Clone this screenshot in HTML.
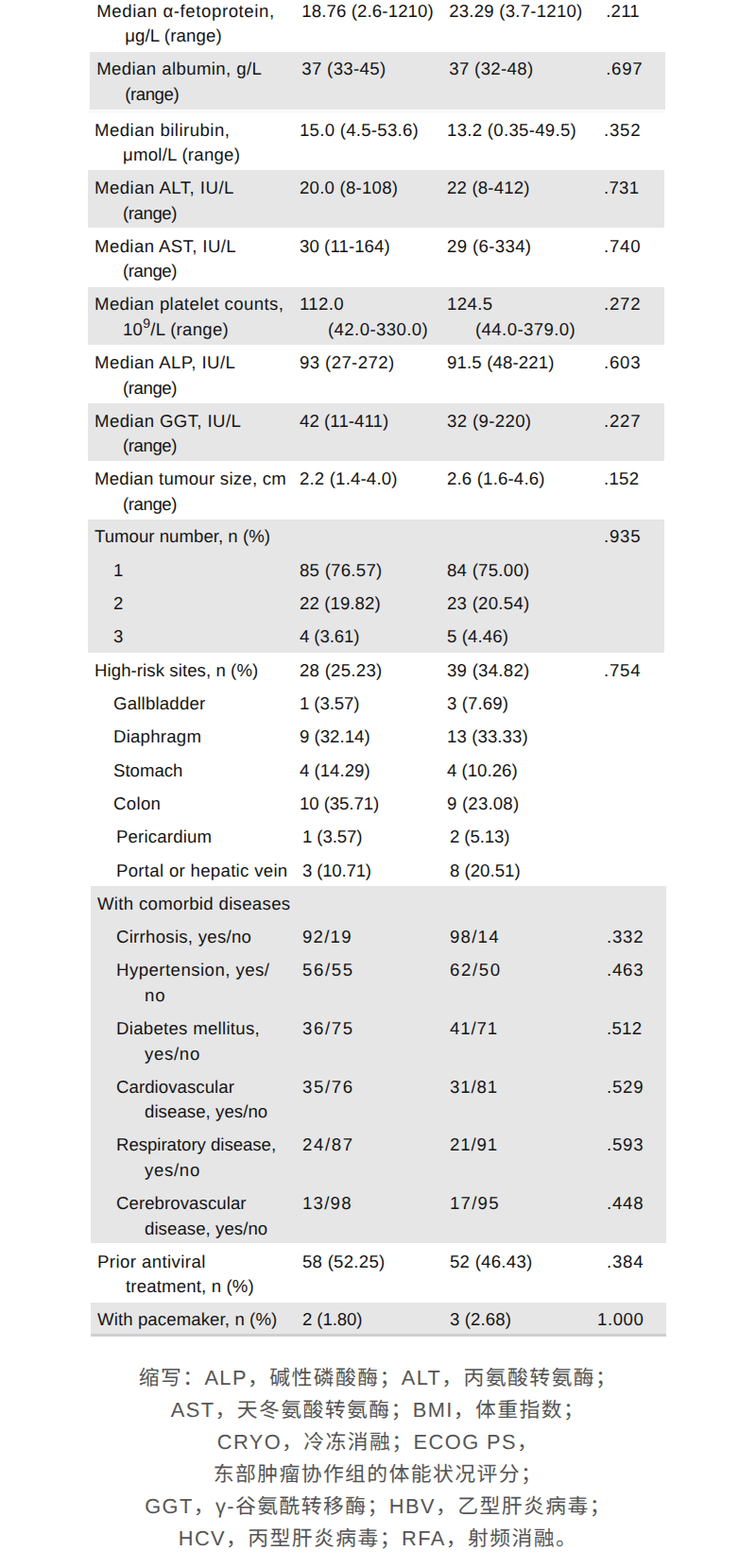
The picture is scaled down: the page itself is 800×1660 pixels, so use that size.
<!DOCTYPE html>
<html lang="en"><head><meta charset="utf-8"><title>Table</title><style>html,body{margin:0;padding:0;background:#fff}
#pg{text-rendering:geometricPrecision;position:relative;width:800px;height:1660px;overflow:hidden;background:#fff;font-family:"Liberation Sans", sans-serif;font-size:18.6px;color:#151515;line-height:20px}
.t{position:absolute;white-space:pre}
.b{position:absolute;background:#e6e6e7}
sup{font-size:14px;line-height:0;vertical-align:baseline;position:relative;top:-8.3px}
.zt{position:absolute;left:0;width:800px;text-align:center;white-space:pre;font-size:21.8px;letter-spacing:1.45px;line-height:30px;color:transparent}
.zs text{font-family:"Liberation Sans","Noto Sans CJK SC",sans-serif;font-size:21.8px;letter-spacing:1.45px;fill:#555}
</style></head><body><div id="pg">
<div class="b" style="left:94.75px;top:54.60px;width:609.65px;height:61.00px"></div>
<div class="b" style="left:92.8px;top:117.80px;width:610.00px;height:1.00px;background:#f4f4f4"></div>
<div class="b" style="left:92.8px;top:180.10px;width:610.00px;height:61.10px"></div>
<div class="b" style="left:92.8px;top:303.50px;width:610.00px;height:61.10px"></div>
<div class="b" style="left:92.8px;top:427.00px;width:610.00px;height:60.90px"></div>
<div class="b" style="left:92.8px;top:550.00px;width:610.00px;height:140.50px"></div>
<div class="b" style="left:95.6px;top:937.75px;width:609.80px;height:378.45px"></div>
<div class="b" style="left:95.6px;top:1378.50px;width:609.80px;height:33.50px"></div>
<div class="b" style="left:95.6px;top:1411.80px;width:609.80px;height:3.00px;background:#cfcfd1"></div>
<span class="t" style="left:102.20px;top:1.80px;letter-spacing:0.59px">Median α-fetoprotein,</span>
<span class="t" style="left:132.20px;top:28.30px;letter-spacing:0.13px">μg/L (range)</span>
<span class="t" style="left:319.20px;top:1.80px;letter-spacing:0.14px">18.76 (2.6-1210)</span>
<span class="t" style="left:475.20px;top:1.80px;letter-spacing:0.24px">23.29 (3.7-1210)</span>
<span class="t" style="left:641.20px;top:1.80px;letter-spacing:0.23px">.211</span>
<span class="t" style="left:102.20px;top:63.40px;letter-spacing:0.4px">Median albumin, g/L</span>
<span class="t" style="left:132.20px;top:89.90px;letter-spacing:-0.42px">(range)</span>
<span class="t" style="left:319.20px;top:63.40px;letter-spacing:0.36px">37 (33-45)</span>
<span class="t" style="left:475.20px;top:63.40px;letter-spacing:0.36px">37 (32-48)</span>
<span class="t" style="left:641.20px;top:63.40px;letter-spacing:0.76px">.697</span>
<span class="t" style="left:100.00px;top:127.50px;letter-spacing:0.47px">Median bilirubin,</span>
<span class="t" style="left:130.00px;top:154.00px;letter-spacing:0.25px">μmol/L (range)</span>
<span class="t" style="left:317.00px;top:127.50px;letter-spacing:0.27px">15.0 (4.5-53.6)</span>
<span class="t" style="left:473.00px;top:127.50px;letter-spacing:0.3px">13.2 (0.35-49.5)</span>
<span class="t" style="left:639.00px;top:127.50px;letter-spacing:0.76px">.352</span>
<span class="t" style="left:100.00px;top:189.15px;letter-spacing:0.48px">Median ALT, IU/L</span>
<span class="t" style="left:130.00px;top:215.65px;letter-spacing:-0.42px">(range)</span>
<span class="t" style="left:317.00px;top:189.15px;letter-spacing:0.24px">20.0 (8-108)</span>
<span class="t" style="left:473.00px;top:189.15px;letter-spacing:0.19px">22 (8-412)</span>
<span class="t" style="left:639.00px;top:189.15px;letter-spacing:0.26px">.731</span>
<span class="t" style="left:100.00px;top:250.80px;letter-spacing:0.4px">Median AST, IU/L</span>
<span class="t" style="left:130.00px;top:277.30px;letter-spacing:-0.42px">(range)</span>
<span class="t" style="left:317.00px;top:250.80px;letter-spacing:0.09px">30 (11-164)</span>
<span class="t" style="left:473.00px;top:250.80px;letter-spacing:0.36px">29 (6-334)</span>
<span class="t" style="left:639.00px;top:250.80px;letter-spacing:0.76px">.740</span>
<span class="t" style="left:100.00px;top:312.45px;letter-spacing:0.39px">Median platelet counts,</span>
<span class="t" style="left:130.00px;top:338.95px;letter-spacing:0.28px">10<sup>9</sup>/L (range)</span>
<span class="t" style="left:317.00px;top:312.45px;letter-spacing:0.36px">112.0</span>
<span class="t" style="left:347.00px;top:338.95px;letter-spacing:0.41px">(42.0-330.0)</span>
<span class="t" style="left:473.00px;top:312.45px;letter-spacing:0.39px">124.5</span>
<span class="t" style="left:503.00px;top:338.95px;letter-spacing:0.41px">(44.0-379.0)</span>
<span class="t" style="left:639.00px;top:312.45px;letter-spacing:0.76px">.272</span>
<span class="t" style="left:100.00px;top:374.10px;letter-spacing:0.44px">Median ALP, IU/L</span>
<span class="t" style="left:130.00px;top:400.60px;letter-spacing:-0.42px">(range)</span>
<span class="t" style="left:317.00px;top:374.10px;letter-spacing:0.4px">93 (27-272)</span>
<span class="t" style="left:473.00px;top:374.10px;letter-spacing:0.16px">91.5 (48-221)</span>
<span class="t" style="left:639.00px;top:374.10px;letter-spacing:0.76px">.603</span>
<span class="t" style="left:100.00px;top:435.75px;letter-spacing:0.4px">Median GGT, IU/L</span>
<span class="t" style="left:130.00px;top:462.25px;letter-spacing:-0.42px">(range)</span>
<span class="t" style="left:317.00px;top:435.75px;letter-spacing:0.08px">42 (11-411)</span>
<span class="t" style="left:473.00px;top:435.75px;letter-spacing:0.36px">32 (9-220)</span>
<span class="t" style="left:639.00px;top:435.75px;letter-spacing:0.76px">.227</span>
<span class="t" style="left:100.00px;top:497.40px;letter-spacing:0.26px">Median tumour size, cm</span>
<span class="t" style="left:130.00px;top:523.90px;letter-spacing:-0.42px">(range)</span>
<span class="t" style="left:317.00px;top:497.40px;letter-spacing:0.18px">2.2 (1.4-4.0)</span>
<span class="t" style="left:473.00px;top:497.40px;letter-spacing:0.18px">2.6 (1.6-4.6)</span>
<span class="t" style="left:639.00px;top:497.40px;letter-spacing:0.26px">.152</span>
<span class="t" style="left:100.00px;top:558.40px;letter-spacing:0.03px">Tumour number, n (%)</span>
<span class="t" style="left:639.00px;top:558.40px;letter-spacing:0.76px">.935</span>
<span class="t" style="left:120.00px;top:593.70px">1</span>
<span class="t" style="left:317.00px;top:593.70px;letter-spacing:0.27px">85 (76.57)</span>
<span class="t" style="left:473.00px;top:593.70px;letter-spacing:0.27px">84 (75.00)</span>
<span class="t" style="left:120.00px;top:629.00px">2</span>
<span class="t" style="left:317.00px;top:629.00px;letter-spacing:0.1px">22 (19.82)</span>
<span class="t" style="left:473.00px;top:629.00px;letter-spacing:0.27px">23 (20.54)</span>
<span class="t" style="left:120.00px;top:664.30px">3</span>
<span class="t" style="left:317.00px;top:664.30px;letter-spacing:-0.09px">4 (3.61)</span>
<span class="t" style="left:473.00px;top:664.30px;letter-spacing:0.13px">5 (4.46)</span>
<span class="t" style="left:100.00px;top:699.60px;letter-spacing:0.08px">High-risk sites, n (%)</span>
<span class="t" style="left:317.00px;top:699.60px;letter-spacing:0.27px">28 (25.23)</span>
<span class="t" style="left:473.00px;top:699.60px;letter-spacing:0.27px">39 (34.82)</span>
<span class="t" style="left:639.00px;top:699.60px;letter-spacing:0.76px">.754</span>
<span class="t" style="left:120.00px;top:734.90px;letter-spacing:0.21px">Gallbladder</span>
<span class="t" style="left:317.00px;top:734.90px;letter-spacing:-0.09px">1 (3.57)</span>
<span class="t" style="left:473.00px;top:734.90px;letter-spacing:0.13px">3 (7.69)</span>
<span class="t" style="left:120.00px;top:770.20px;letter-spacing:0.24px">Diaphragm</span>
<span class="t" style="left:317.00px;top:770.20px;letter-spacing:0.02px">9 (32.14)</span>
<span class="t" style="left:473.00px;top:770.20px;letter-spacing:0.1px">13 (33.33)</span>
<span class="t" style="left:120.00px;top:805.50px">Stomach</span>
<span class="t" style="left:317.00px;top:805.50px;letter-spacing:0.02px">4 (14.29)</span>
<span class="t" style="left:473.00px;top:805.50px;letter-spacing:0.02px">4 (10.26)</span>
<span class="t" style="left:120.00px;top:840.80px;letter-spacing:0.33px">Colon</span>
<span class="t" style="left:317.00px;top:840.80px;letter-spacing:-0.07px">10 (35.71)</span>
<span class="t" style="left:473.00px;top:840.80px;letter-spacing:0.21px">9 (23.08)</span>
<span class="t" style="left:123.00px;top:876.30px;letter-spacing:0.18px">Pericardium</span>
<span class="t" style="left:320.00px;top:876.30px;letter-spacing:-0.09px">1 (3.57)</span>
<span class="t" style="left:476.00px;top:876.30px;letter-spacing:-0.09px">2 (5.13)</span>
<span class="t" style="left:123.00px;top:911.60px;letter-spacing:0.31px">Portal or hepatic vein</span>
<span class="t" style="left:320.00px;top:911.60px;letter-spacing:-0.17px">3 (10.71)</span>
<span class="t" style="left:476.00px;top:911.60px;letter-spacing:0.02px">8 (20.51)</span>
<span class="t" style="left:103.00px;top:946.80px;letter-spacing:0.32px">With comorbid diseases</span>
<span class="t" style="left:123.00px;top:982.10px;letter-spacing:0.28px">Cirrhosis, yes/no</span>
<span class="t" style="left:320.00px;top:982.10px;letter-spacing:1.24px">92/19</span>
<span class="t" style="left:476.00px;top:982.10px;letter-spacing:1.24px">98/14</span>
<span class="t" style="left:642.00px;top:982.10px;letter-spacing:0.76px">.332</span>
<span class="t" style="left:123.00px;top:1017.40px;letter-spacing:0.47px">Hypertension, yes/</span>
<span class="t" style="left:153.00px;top:1043.90px;letter-spacing:0.84px">no</span>
<span class="t" style="left:320.00px;top:1017.40px;letter-spacing:1.61px">56/55</span>
<span class="t" style="left:476.00px;top:1017.40px;letter-spacing:1.61px">62/50</span>
<span class="t" style="left:642.00px;top:1017.40px;letter-spacing:0.76px">.463</span>
<span class="t" style="left:123.00px;top:1079.05px;letter-spacing:0.29px">Diabetes mellitus,</span>
<span class="t" style="left:153.00px;top:1105.55px;letter-spacing:0.69px">yes/no</span>
<span class="t" style="left:320.00px;top:1079.05px;letter-spacing:1.61px">36/75</span>
<span class="t" style="left:476.00px;top:1079.05px;letter-spacing:0.86px">41/71</span>
<span class="t" style="left:642.00px;top:1079.05px;letter-spacing:0.26px">.512</span>
<span class="t" style="left:123.00px;top:1140.70px;letter-spacing:0.07px">Cardiovascular</span>
<span class="t" style="left:153.00px;top:1167.20px;letter-spacing:0.07px">disease, yes/no</span>
<span class="t" style="left:320.00px;top:1140.70px;letter-spacing:1.61px">35/76</span>
<span class="t" style="left:476.00px;top:1140.70px;letter-spacing:0.86px">31/81</span>
<span class="t" style="left:642.00px;top:1140.70px;letter-spacing:0.76px">.529</span>
<span class="t" style="left:123.00px;top:1202.35px;letter-spacing:-0.02px">Respiratory disease,</span>
<span class="t" style="left:153.00px;top:1228.85px;letter-spacing:0.69px">yes/no</span>
<span class="t" style="left:320.00px;top:1202.35px;letter-spacing:1.61px">24/87</span>
<span class="t" style="left:476.00px;top:1202.35px;letter-spacing:0.86px">21/91</span>
<span class="t" style="left:642.00px;top:1202.35px;letter-spacing:0.76px">.593</span>
<span class="t" style="left:123.00px;top:1264.00px;letter-spacing:0.08px">Cerebrovascular</span>
<span class="t" style="left:153.00px;top:1290.50px;letter-spacing:0.07px">disease, yes/no</span>
<span class="t" style="left:320.00px;top:1264.00px;letter-spacing:1.24px">13/98</span>
<span class="t" style="left:476.00px;top:1264.00px;letter-spacing:1.24px">17/95</span>
<span class="t" style="left:642.00px;top:1264.00px;letter-spacing:0.76px">.448</span>
<span class="t" style="left:103.00px;top:1325.65px;letter-spacing:0.42px">Prior antiviral</span>
<span class="t" style="left:133.00px;top:1352.15px;letter-spacing:0.16px">treatment, n (%)</span>
<span class="t" style="left:320.00px;top:1325.65px;letter-spacing:0.27px">58 (52.25)</span>
<span class="t" style="left:476.00px;top:1325.65px;letter-spacing:0.27px">52 (46.43)</span>
<span class="t" style="left:642.00px;top:1325.65px;letter-spacing:0.76px">.384</span>
<span class="t" style="left:103.00px;top:1387.00px;letter-spacing:0.11px">With pacemaker, n (%)</span>
<span class="t" style="left:320.00px;top:1387.00px;letter-spacing:-0.09px">2 (1.80)</span>
<span class="t" style="left:476.00px;top:1387.00px;letter-spacing:0.13px">3 (2.68)</span>
<span class="t" style="left:632.00px;top:1387.00px;letter-spacing:0.59px">1.000</span>
<svg class="zs" width="800" height="230" viewBox="0 1430 800 230" style="position:absolute;left:0;top:1430px" fill="#555">
<text x="400" y="1466" text-anchor="middle">缩写：ALP，碱性磷酸酶；ALT，丙氨酸转氨酶；</text>
<text x="400" y="1500" text-anchor="middle">AST，天冬氨酸转氨酶；BMI，体重指数；</text>
<text x="400" y="1534" text-anchor="middle">CRYO，冷冻消融；ECOG PS，</text>
<text x="400" y="1568" text-anchor="middle">东部肿瘤协作组的体能状况评分；</text>
<text x="400" y="1602" text-anchor="middle">GGT，γ-谷氨酰转移酶；HBV，乙型肝炎病毒；</text>
<text x="400" y="1636" text-anchor="middle">HCV，丙型肝炎病毒；RFA，射频消融。</text>
</svg>
</div></body></html>
